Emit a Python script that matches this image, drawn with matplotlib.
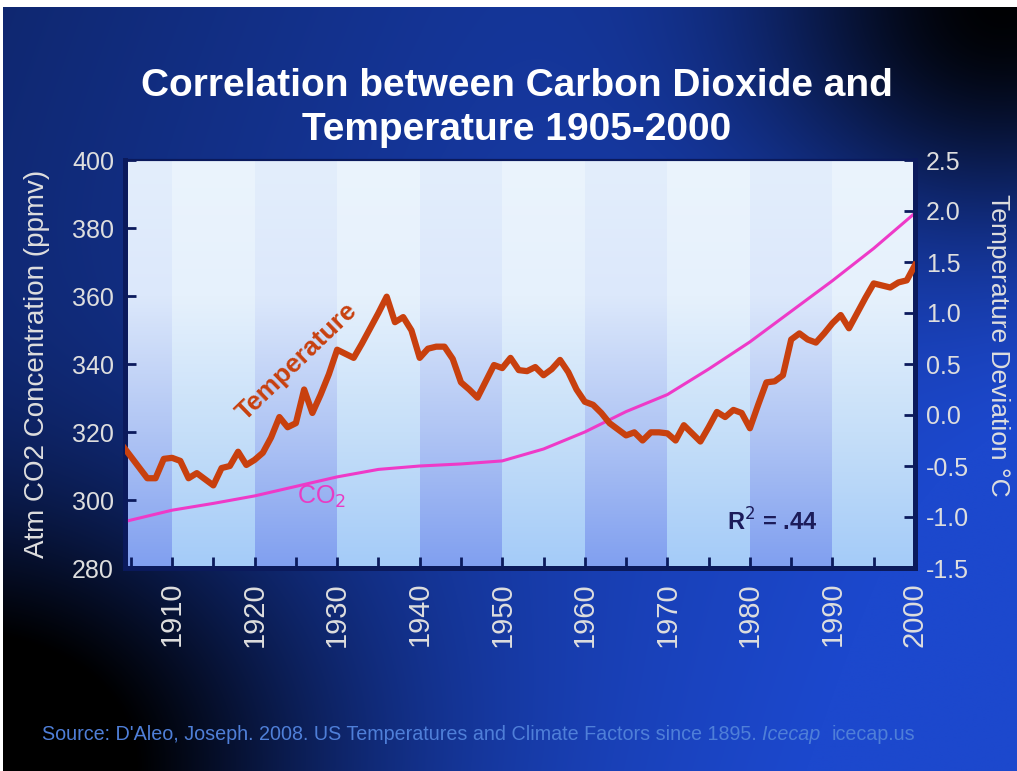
"""
Correlation between CO2 and temperature, 1905-2000 (slide-style chart).
"""

import numpy as np
import matplotlib
matplotlib.use("Agg")
import matplotlib.pyplot as plt
from matplotlib.colors import LinearSegmentedColormap

plt.rcParams["font.family"] = ["Liberation Sans", "DejaVu Sans"]

# data
temp_years = [1904, 1907, 1908, 1909, 1910, 1911, 1912, 1913, 1914, 1915,
              1916, 1917, 1918, 1919, 1920, 1921, 1922, 1923, 1924, 1925,
              1926, 1927, 1928, 1929, 1930, 1931, 1932, 1933, 1934, 1935,
              1936, 1937, 1938, 1939, 1940, 1941, 1942, 1943, 1944, 1945,
              1946, 1947, 1948, 1949, 1950, 1951, 1952, 1953, 1954, 1955,
              1956, 1957, 1958, 1959, 1960, 1961, 1962, 1963, 1964, 1965,
              1966, 1967, 1968, 1969, 1970, 1971, 1972, 1973, 1974, 1975,
              1976, 1977, 1978, 1979, 1980, 1981, 1982, 1983, 1984, 1985,
              1986, 1987, 1988, 1989, 1990, 1991, 1992, 1993, 1994, 1995,
              1996, 1997, 1998, 1999, 2000]
temp_dev = [-0.30, -0.62, -0.62, -0.43, -0.42, -0.45, -0.62, -0.57, -0.63, -0.69,
            -0.52, -0.50, -0.36, -0.49, -0.44, -0.37, -0.22, -0.02, -0.12, -0.08,
            0.25, 0.02, 0.20, 0.40, 0.64, 0.60, 0.56, 0.70, 0.85, 1.00,
            1.16, 0.91, 0.96, 0.83, 0.56, 0.65, 0.67, 0.67, 0.55, 0.32,
            0.25, 0.17, 0.33, 0.49, 0.46, 0.56, 0.44, 0.43, 0.47, 0.39,
            0.45, 0.54, 0.42, 0.25, 0.13, 0.10, 0.02, -0.08, -0.14, -0.20,
            -0.17, -0.25, -0.17, -0.17, -0.18, -0.25, -0.10, -0.18, -0.26, -0.12,
            0.03, -0.02, 0.05, 0.02, -0.13, 0.10, 0.32, 0.33, 0.39, 0.74,
            0.80, 0.74, 0.71, 0.80, 0.90, 0.98, 0.85, 1.00, 1.15, 1.29,
            1.27, 1.25, 1.30, 1.32, 1.47]

co2_years = [1904, 1910, 1915, 1920, 1925, 1930, 1935, 1940, 1945, 1950,
             1955, 1960, 1965, 1970, 1975, 1980, 1985, 1990, 1995, 2000]
co2_ppmv = [293.5, 297.0, 299.0, 301.2, 304.0, 306.8, 309.0, 310.0, 310.6, 311.5,
            315.0, 320.0, 326.0, 331.0, 338.5, 346.5, 355.5, 364.5, 374.0, 384.4]

decades = [1900, 1910, 1920, 1930, 1940, 1950, 1960, 1970, 1980, 1990]
left_ticks = [280, 300, 320, 340, 360, 380, 400]
right_ticks = [-1.5, -1.0, -0.5, 0.0, 0.5, 1.0, 1.5, 2.0, 2.5]
r_squared = ".44"

W, H = 1017, 771
fig = plt.figure(figsize=(W / 100, H / 100), dpi=100, facecolor="white")

# slide background: blue gradient with dark corners
bg = fig.add_axes([3 / W, 0, 1 - 3 / W, 1 - 7 / H])
yy, xx = np.mgrid[0:H, 0:W]
b = 0.55 + 0.42 * (xx / W) + 0.12 * (yy / H)
b -= 0.95 * np.exp(-(((xx - W) / 260.0) ** 2 + (yy / 230.0) ** 2))
b -= 0.85 * np.exp(-((xx / 330.0) ** 2 + ((yy - H) / 260.0) ** 2))
b = np.clip(b, 0, 1)
base = np.array([28, 72, 205]) / 255.0
img = b[..., None] * base[None, None, :]
bg.imshow(img, aspect="auto", extent=[0, 1, 0, 1], origin="upper")
bg.axis("off")

ax = fig.add_axes([125 / W, 1 - 568 / H, 790 / W, 408 / H])
ax2 = ax.twinx()

x0, x1 = 1904.3, 2000

# alternating decade bands with vertical gradient
dark_cm = LinearSegmentedColormap.from_list("dk", ["#809ff0", "#b0c5f4", "#dce8fb", "#e3eefc"])
light_cm = LinearSegmentedColormap.from_list("lt", ["#a4cbf8", "#c6dff9", "#e6f1fc", "#ebf4fd"])
grad = np.linspace(0, 1, 256)[:, None]
for i, d in enumerate(decades):
    cm = dark_cm if i % 2 == 0 else light_cm
    ax.imshow(grad, cmap=cm, aspect="auto", origin="lower",
              extent=[max(d, x0), min(d + 10, x1), 280, 400], zorder=0)
ax.set_xlim(x0, x1)
ax.set_ylim(280, 400)
ax2.set_ylim(-1.5, 2.5)

ax.plot(co2_years, co2_ppmv, color="#ee3ac8", lw=2.2, zorder=3)
ax2.plot(temp_years, temp_dev, color="#c8400e", lw=4.5, zorder=3)

# ticks and spines
navy = "#0b1a5c"
ax.set_xticks(range(1910, 2001, 10))
ax.set_xticks(range(1905, 2000, 10), minor=True)
ax.set_yticks(left_ticks)
ax2.set_yticks(right_ticks)
ax2.set_yticklabels([f"{v:.1f}" for v in right_ticks])
for a in (ax, ax2):
    a.tick_params(which="both", direction="in", length=8, width=2, color=navy,
                  labelcolor="#dedede", labelsize=18, pad=8)
ax.tick_params(axis="x", which="both", labelrotation=90, labelsize=21, pad=10)
for a in (ax, ax2):
    for s in ("left", "right", "bottom"):
        a.spines[s].set_color(navy)
        a.spines[s].set_linewidth(3.5)
    a.spines["top"].set_color(navy)
    a.spines["top"].set_linewidth(1.5)

ax.set_ylabel("Atm CO2 Concentration (ppmv)", color="#dedede", fontsize=20)
ax.yaxis.set_label_coords(-0.095, 0.5)
ax2.set_ylabel("Temperature Deviation °C", color="#dedede", fontsize=19, rotation=-90,
               va="center")
ax2.yaxis.set_label_coords(1.105, 0.545)

# inline labels
ax2.text(1925.1, 0.52, "Temperature", color="#c8400e", fontsize=19, fontweight="bold",
         rotation=44, ha="center", va="center", rotation_mode="anchor", zorder=4)
ax.text(1928.1, 300.9, "CO$_2$", color="#e83cc4", fontsize=18, ha="center", va="center", zorder=4)
ax.text(1982.7, 293.5, f"R$^2$ = {r_squared}", color="#1c1c5a", fontsize=17, fontweight="bold",
        ha="center", va="center", zorder=4)

fig.text(0.508, 1 - 108 / H, "Correlation between Carbon Dioxide and\nTemperature 1905-2000",
         color="white", fontsize=28, fontweight="bold", ha="center", va="center",
         linespacing=1.27)

# source line, pieces laid out one after another
src_kw = dict(color="#4f7fd8", fontsize=14.2, va="center")
fig.canvas.draw()
r = fig.canvas.get_renderer()
xpos = 42
for piece, style in [("Source: D'Aleo, Joseph. 2008. US Temperatures and Climate Factors since 1895. ", "normal"),
                     ("Icecap  ", "italic"),
                     ("icecap.us", "normal")]:
    t = fig.text(xpos / W, 1 - 735 / H, piece, style=style, ha="left", **src_kw)
    xpos += t.get_window_extent(renderer=r).width

fig.savefig("out.png", dpi=100, facecolor=fig.get_facecolor())
